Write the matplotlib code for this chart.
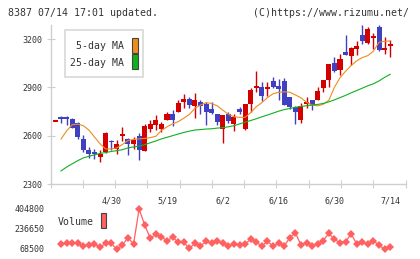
import numpy as np
import matplotlib
matplotlib.use("Agg")
import matplotlib.pyplot as plt
from matplotlib.patches import Rectangle

# candle data (k = 0 .. 60), 7/14 is the last one
opens = [2690, 2710, 2710, 2705, 2680, 2580, 2510, 2497, 2466, 2497,
         2568, 2517, 2603, 2580, 2546, 2598, 2507, 2641, 2666, 2641,
         2699, 2735, 2749, 2807, 2828, 2786, 2807, 2797, 2767, 2733,
         2641, 2735, 2672, 2768, 2641, 2797, 2897, 2905, 2892, 2939,
         2908, 2939, 2840, 2778, 2697, 2797, 2821, 2821, 2896, 2946,
         3053, 3007, 3119, 3097, 3138, 3225, 3177, 3210, 3275, 3134, 3160]
highs = [2692, 2725, 2725, 2710, 2682, 2605, 2530, 2517, 2511, 2620,
         2572, 2573, 2654, 2583, 2594, 2615, 2672, 2697, 2728, 2687,
         2749, 2759, 2821, 2857, 2840, 2863, 2821, 2807, 2807, 2736,
         2730, 2749, 2736, 2778, 2797, 2894, 3000, 2935, 2935, 2962,
         2952, 2956, 2842, 2784, 2803, 2840, 2823, 2902, 2948, 3047,
         3086, 3105, 3225, 3150, 3188, 3287, 3277, 3235, 3287, 3210, 3194]
lows = [2688, 2680, 2665, 2648, 2577, 2498, 2463, 2457, 2438, 2495,
        2512, 2486, 2565, 2480, 2517, 2447, 2505, 2621, 2635, 2621,
        2697, 2662, 2745, 2770, 2770, 2712, 2736, 2666, 2733, 2666,
        2554, 2677, 2629, 2733, 2635, 2749, 2870, 2815, 2845, 2894,
        2821, 2788, 2764, 2672, 2679, 2772, 2759, 2819, 2871, 2904,
        2993, 2977, 3100, 3039, 3101, 3171, 3172, 3140, 3127, 3107, 3090]
closes = [2690, 2705, 2705, 2650, 2592, 2510, 2487, 2492, 2486, 2617,
          2560, 2548, 2610, 2550, 2575, 2509, 2660, 2670, 2697, 2672,
          2735, 2699, 2803, 2828, 2792, 2821, 2786, 2749, 2741, 2683,
          2728, 2691, 2719, 2749, 2795, 2883, 2902, 2848, 2896, 2904,
          2888, 2790, 2778, 2747, 2784, 2805, 2790, 2877, 2946, 3045,
          3003, 3078, 3103, 3146, 3157, 3188, 3262, 3214, 3133, 3146, 3168]

# moving averages and volume (k = 1 .. 60)
ma5 = [2579, 2629, 2668, 2672, 2662, 2635, 2592, 2550, 2517, 2518,
       2524, 2545, 2570, 2577, 2580, 2583, 2588, 2596, 2633, 2655,
       2673, 2687, 2708, 2732, 2770, 2790, 2805, 2800, 2785, 2758,
       2733, 2717, 2714, 2714, 2743, 2780, 2805, 2836, 2860, 2869,
       2872, 2870, 2853, 2835, 2808, 2790, 2785, 2795, 2820, 2900,
       2960, 3000, 3035, 3065, 3085, 3097, 3125, 3180, 3186, 3188]
ma25 = [2381, 2405, 2425, 2445, 2462, 2472, 2481, 2490, 2495, 2502,
        2507, 2513, 2524, 2530, 2535, 2544, 2556, 2567, 2580, 2590,
        2600, 2610, 2620, 2628, 2635, 2638, 2641, 2643, 2647, 2650,
        2655, 2662, 2673, 2684, 2694, 2705, 2717, 2728, 2740, 2752,
        2762, 2769, 2776, 2781, 2786, 2790, 2794, 2800, 2810, 2822,
        2836, 2850, 2866, 2880, 2895, 2910, 2922, 2940, 2962, 2981]
volume = [107700, 121700, 116100, 118900, 93700, 104900, 107700, 82500, 116100, 116100,
          65700, 102100, 163800, 110500, 404800, 270200, 158200, 191800, 172200, 135700,
          169400, 124500, 124500, 74100, 116100, 93700, 132900, 116100, 132900, 116100,
          93700, 107700, 102100, 110500, 149800, 124500, 93700, 132900, 93700, 116100,
          93700, 163800, 205800, 102100, 121700, 93700, 110500, 138500, 200200, 149800,
          121700, 130100, 194600, 110500, 124500, 107700, 135700, 102100, 65700, 82500]

date_labels = ["4/30", "5/19", "6/2", "6/16", "6/30", "7/14"]
date_index = [10, 20, 30, 40, 50, 60]
price_ticks = [2300, 2600, 2900, 3200]
vol_ticks = [68500, 236650, 404800]

RED = "#d40000"
BLUE = "#4040c0"
ORANGE = "#f08c1c"
GREEN = "#10b020"
VOLC = "#ff6060"
GRID = "#cfcfcf"
TXT = "#333333"
W, H = 420, 259

fig = plt.figure(figsize=(4.2, 2.59), dpi=100)
fig.patch.set_facecolor("white")
plt.rcParams["font.family"] = "DejaVu Sans Mono"


def px(x0, y0, x1, y1):
    return [x0 / W, 1 - y1 / H, (x1 - x0) / W, (y1 - y0) / H]


xmin, xmax = -0.88, 62.74
ax = fig.add_axes(px(50.5, 25, 405.5, 184))
k = np.arange(len(opens))
o = np.array(opens); c = np.array(closes)
up = c >= o
cols = np.where(up, RED, BLUE)
ax.vlines(k, lows, highs, colors=cols, linewidth=1, zorder=2)
body = np.maximum(np.abs(c - o), 12)
bottom = np.minimum(o, c) - np.where(np.abs(c - o) < 12, (12 - np.abs(c - o)) / 2, 0)
ax.bar(k, body, bottom=bottom, width=0.9, color=cols, linewidth=0, zorder=3)

km = np.arange(1, len(ma5) + 1)
ax.plot(km, ma5, color=ORANGE, linewidth=0.8, zorder=4)
ax.plot(km, ma25, color=GREEN, linewidth=0.8, zorder=4)

ax.set_xlim(xmin, xmax)
ax.set_ylim(2300, 3287)
for s in ["top", "right"]:
    ax.spines[s].set_visible(False)
for s in ["left", "bottom"]:
    ax.spines[s].set_color(GRID)
    ax.spines[s].set_linewidth(1)
ax.set_yticks(price_ticks)
ax.set_yticklabels([str(v) for v in price_ticks])
ax.tick_params(axis="y", direction="inout", length=6, color=GRID,
               labelsize=6, labelcolor=TXT, pad=3)
ax.set_xticks(np.linspace(xmin, xmax, 12))
ax.set_xticks(date_index, minor=True)
ax.set_xticklabels(date_labels, minor=True)
ax.tick_params(axis="x", which="major", direction="inout", length=6,
               color=GRID, labelbottom=False)
ax.tick_params(axis="x", which="minor", length=0, labelsize=6,
               labelcolor=TXT, pad=9)

# legend box
fig.add_artist(Rectangle((65 / W, 1 - 77 / H), 78 / W, 47 / H, transform=fig.transFigure,
                         facecolor="white", edgecolor="#d8d8d8", linewidth=1.2, zorder=5))
fig.text(124 / W, 1 - 46 / H, "5-day MA", ha="right", va="center", fontsize=7.1, color=TXT, zorder=6)
fig.text(124 / W, 1 - 62.5 / H, "25-day MA", ha="right", va="center", fontsize=7.1, color=TXT, zorder=6)
fig.add_artist(Rectangle((132 / W, 1 - 52.5 / H), 5.5 / W, 15 / H, transform=fig.transFigure,
                         facecolor=ORANGE, edgecolor="#444444", linewidth=0.8, zorder=6))
fig.add_artist(Rectangle((132 / W, 1 - 69 / H), 5.5 / W, 15 / H, transform=fig.transFigure,
                         facecolor=GREEN, edgecolor="#444444", linewidth=0.8, zorder=6))

# volume panel
vax = fig.add_axes(px(50.5, 205, 405.5, 253))
kv = np.arange(1, len(volume) + 1)
vax.plot(kv, volume, color=VOLC, linewidth=0.9, marker="D", markersize=4.3,
         markeredgewidth=0)
vax.set_xlim(xmin, xmax)
vax.set_ylim(34870, 438430)
for s in vax.spines.values():
    s.set_visible(False)
vax.set_xticks([])
vax.set_yticks(vol_ticks)
vax.set_yticklabels([str(v) for v in vol_ticks])
vax.tick_params(axis="y", length=0, labelsize=6, labelcolor=TXT, pad=4.5)
vax.patch.set_alpha(0)
fig.text(58 / W, 1 - 222 / H, "Volume", ha="left", va="center", fontsize=7.1, color=TXT)
fig.add_artist(Rectangle((101 / W, 1 - 228 / H), 5.5 / W, 15 / H, transform=fig.transFigure,
                         facecolor=VOLC, edgecolor="#444444", linewidth=0.8))

# header
fig.text(8 / W, 1 - 13 / H, "8387 07/14 17:01 updated.", ha="left", va="center",
         fontsize=7.1, color=TXT)
fig.text(409 / W, 1 - 13 / H, "(C)https://www.rizumu.net/", ha="right", va="center",
         fontsize=7.1, color=TXT)

fig.savefig("out.png", dpi=100)
